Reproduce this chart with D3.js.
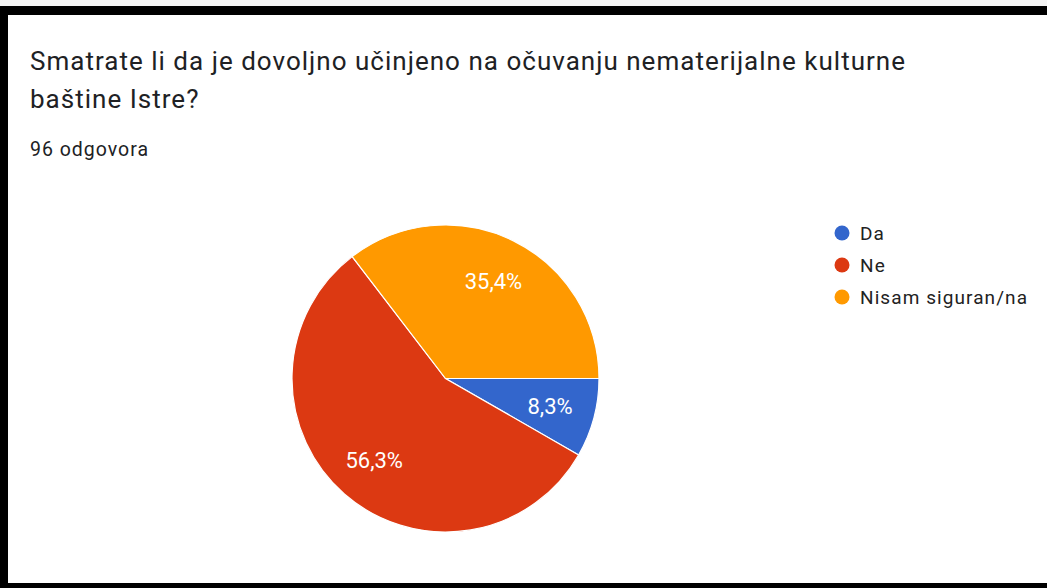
<!DOCTYPE html>
<html><head><meta charset="utf-8">
<script src="https://cdn.jsdelivr.net/npm/d3@7"></script>
<style>
html,body{margin:0;padding:0;background:#fff;}
svg{display:block;font-family:Roboto,Arial,sans-serif;}
</style></head>
<body>
<svg id="c" width="1047" height="588"></svg>
<script>
const categories = ["Da", "Ne", "Nisam siguran/na"];
const values = [8.3, 56.3, 35.4];
const valueLabels = ["8,3%", "56,3%", "35,4%"];
const colors = ["#3366cc", "#dc3912", "#ff9900"];
const titleLines = ["Smatrate li da je dovoljno učinjeno na očuvanju nematerijalne kulturne", "baštine Istre?"];
const subtitle = "96 odgovora";

const svg = d3.select("#c");
// frame
svg.append("rect").attr("x",0).attr("y",0).attr("width",1047).attr("height",6).attr("fill","#f4f4f4");
svg.append("rect").attr("x",0).attr("y",6).attr("width",1047).attr("height",9).attr("fill","#000");
svg.append("rect").attr("x",0).attr("y",6).attr("width",8).attr("height",582).attr("fill","#000");
svg.append("rect").attr("x",0).attr("y",583).attr("width",1047).attr("height",5).attr("fill","#000");

// fit helper: stretch text horizontally to a target width via letter-spacing
function fitWidth(sel, target) {
  sel.each(function() {
    const w = this.getComputedTextLength();
    const n = this.textContent.length;
    if (n > 1) d3.select(this).attr("letter-spacing", (target - w) / (n - 1));
  });
}

const t1 = svg.append("g").selectAll("text").data(titleLines).join("text")
  .attr("x",30).attr("y",(d,i)=>70+i*38)
  .attr("font-size",26).attr("fill","#202124").text(d=>d);
fitWidth(t1.filter((d,i)=>i===0), 875);
t1.filter((d,i)=>i===1).attr("letter-spacing", t1.filter((d,i)=>i===0).attr("letter-spacing"));

const st = svg.append("text").attr("x",30).attr("y",156).attr("font-size",19.5).attr("fill","#202124").text(subtitle);
fitWidth(st, 118);

const cx = 445.5, cy = 378.5, r = 153.5;
const pie = d3.pie().sort(null).value(d=>d).startAngle(Math.PI/2).endAngle(Math.PI/2+2*Math.PI);
const arcs = pie(values);
const arc = d3.arc().innerRadius(0).outerRadius(r);
const labelArc = d3.arc().innerRadius(r*0.705).outerRadius(r*0.705);
const g = svg.append("g").attr("transform",`translate(${cx},${cy})`);
g.selectAll("path").data(arcs).join("path")
  .attr("d",arc).attr("fill",(d,i)=>colors[i]).attr("stroke","#fff").attr("stroke-width",1.2);
g.selectAll("text").data(arcs).join("text")
  .attr("transform",d=>`translate(${labelArc.centroid(d)})`)
  .attr("text-anchor","middle").attr("dy","0.36em")
  .attr("font-size",22).attr("fill","#fff").text((d,i)=>valueLabels[i]);

const lg = svg.append("g").attr("transform","translate(842,233)");
const items = lg.selectAll("g").data(categories).join("g").attr("transform",(d,i)=>`translate(0,${i*32})`);
items.append("circle").attr("r",7.5).attr("fill",(d,i)=>colors[i]);
const lt = items.append("text").attr("x",18).attr("dy","0.36em").attr("font-size",19).attr("fill","#222").text(d=>d);
fitWidth(lt.filter((d,i)=>i===2), 167);
lt.filter((d,i)=>i<2).attr("letter-spacing", lt.filter((d,i)=>i===2).attr("letter-spacing"));
</script>
</body></html>
